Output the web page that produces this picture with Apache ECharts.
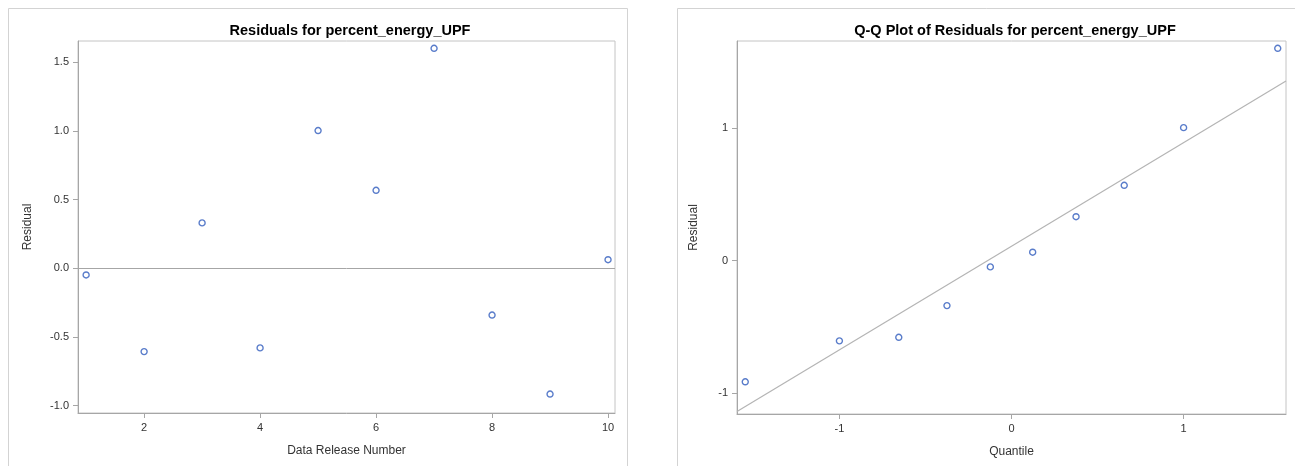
<!DOCTYPE html>
<html>
<head>
<meta charset="utf-8">
<script src="https://cdn.jsdelivr.net/npm/echarts@6/dist/echarts.min.js"></script>
<style>
html,body{margin:0;padding:0;background:#fff;}
#chart{width:1295px;height:466px;}
</style>
</head>
<body>
<div id="chart"></div>
<script>
// ---- Data ----
const releaseNumbers = [1, 2, 3, 4, 5, 6, 7, 8, 9, 10];
const residuals = [-0.048, -0.606, 0.331, -0.579, 1.003, 0.568, 1.602, -0.340, -0.915, 0.063];
const qqQuantiles = [-1.547, -1.000, -0.655, -0.375, -0.123, 0.123, 0.375, 0.655, 1.000, 1.547];
const qqResiduals = [-0.915, -0.606, -0.579, -0.340, -0.048, 0.063, 0.331, 0.568, 1.003, 1.602];
const qqLineIntercept = 0.108;
const qqLineSlope = 0.782;
const leftXTicks = [2, 4, 6, 8, 10];
const leftYTicks = [-1.0, -0.5, 0.0, 0.5, 1.0, 1.5];
const rightXTicks = [-1, 0, 1];
const rightYTicks = [-1, 0, 1];

// ---- Layout ----
const LX = [0.86, 10.12], LY = [-1.053, 1.655];
const RX = [-1.595, 1.595], RY = [-1.158, 1.657];
const FONT = '"Liberation Sans", Arial, sans-serif';
const blue = '#2f5bbd';
const axisGrey = '#a6a6a6';

const chart = echarts.init(document.getElementById('chart'), null, {renderer: 'canvas'});

function xAxisCfg(idx, range, ticks, name, fmt) {
  return {
    gridIndex: idx, type: 'value', min: range[0], max: range[1],
    name: name, nameLocation: 'middle', nameGap: 32,
    nameTextStyle: {fontFamily: FONT, fontSize: 12, color: '#333'},
    axisLine: {show: true, onZero: false, lineStyle: {color: axisGrey}},
    axisTick: {show: true, length: 5, customValues: ticks, lineStyle: {color: axisGrey}},
    axisLabel: {customValues: ticks, margin: 9, fontFamily: FONT, fontSize: 11, color: '#333', formatter: fmt},
    splitLine: {show: false}
  };
}
function yAxisCfg(idx, range, ticks, fmt, gap) {
  return {
    gridIndex: idx, type: 'value', min: range[0], max: range[1],
    name: 'Residual', nameLocation: 'middle', nameGap: gap, nameRotate: 90,
    nameTextStyle: {fontFamily: FONT, fontSize: 12, color: '#333'},
    axisLine: {show: true, onZero: false, lineStyle: {color: axisGrey}},
    axisTick: {show: true, length: 5, customValues: ticks, lineStyle: {color: axisGrey}},
    axisLabel: {customValues: ticks, margin: 9, fontFamily: FONT, fontSize: 11, color: '#333', formatter: fmt},
    splitLine: {show: false}
  };
}

const option = {
  animation: false,
  backgroundColor: '#fff',
  graphic: [
    {type: 'rect', shape: {x: 8.5, y: 8.5, width: 619, height: 480}, style: {fill: 'none', stroke: '#d3d3d3', lineWidth: 1}, silent: true},
    {type: 'rect', shape: {x: 677.5, y: 8.5, width: 640, height: 480}, style: {fill: 'none', stroke: '#d3d3d3', lineWidth: 1}, silent: true}
  ],
  title: [
    {text: 'Residuals for percent_energy_UPF', left: 345, top: 18, textAlign: 'center',
     textStyle: {fontFamily: FONT, fontSize: 14.5, fontWeight: 'bold', color: '#000'}},
    {text: 'Q-Q Plot of Residuals for percent_energy_UPF', left: 1010, top: 18, textAlign: 'center',
     textStyle: {fontFamily: FONT, fontSize: 14.5, fontWeight: 'bold', color: '#000'}}
  ],
  grid: [
    {left: 78, top: 41, width: 537, height: 372, show: true, borderColor: '#c4c4c4', borderWidth: 1, backgroundColor: 'transparent'},
    {left: 737, top: 41, width: 549, height: 373, show: true, borderColor: '#c4c4c4', borderWidth: 1, backgroundColor: 'transparent'}
  ],
  xAxis: [
    xAxisCfg(0, LX, leftXTicks, 'Data Release Number', v => String(v)),
    xAxisCfg(1, RX, rightXTicks, 'Quantile', v => String(Math.round(v)))
  ],
  yAxis: [
    yAxisCfg(0, LY, leftYTicks, v => v.toFixed(1), 44),
    yAxisCfg(1, RY, rightYTicks, v => String(Math.round(v)), 37)
  ],
  series: [
    {
      type: 'scatter', xAxisIndex: 0, yAxisIndex: 0,
      data: releaseNumbers.map((x, i) => [x, residuals[i]]),
      symbol: 'circle', symbolSize: 6,
      itemStyle: {color: '#fff', borderColor: blue, borderWidth: 1.4},
      markLine: {
        silent: true, symbol: ['none', 'none'], label: {show: false},
        lineStyle: {color: axisGrey, width: 1, type: 'solid'},
        data: [{yAxis: 0}]
      },
      z: 3
    },
    {
      type: 'line', xAxisIndex: 1, yAxisIndex: 1,
      data: RX.map(x => [x, qqLineIntercept + qqLineSlope * x]),
      showSymbol: false, symbol: 'none',
      lineStyle: {color: '#b4b4b4', width: 1.2},
      clip: true, silent: true, z: 2
    },
    {
      type: 'scatter', xAxisIndex: 1, yAxisIndex: 1,
      data: qqQuantiles.map((x, i) => [x, qqResiduals[i]]),
      symbol: 'circle', symbolSize: 6,
      itemStyle: {color: '#fff', borderColor: blue, borderWidth: 1.4},
      z: 3
    }
  ]
};
chart.setOption(option);
</script>
</body>
</html>
